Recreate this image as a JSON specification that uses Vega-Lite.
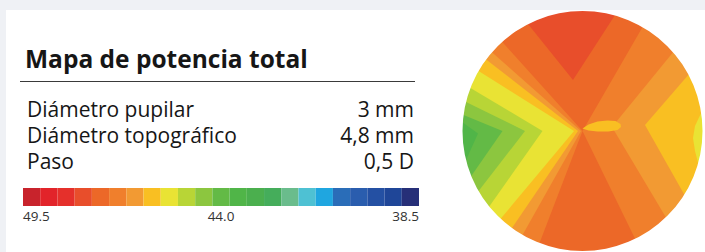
{
  "$schema": "https://vega.github.io/schema/vega-lite/v6.json",
  "background": "#eff1f5",
  "padding": {"left": 6, "top": 10, "right": 0, "bottom": 0},
  "config": {"view": {"stroke": null, "fill": "white"}, "font": "Open Sans"},
  "spacing": 0,
  "bounds": "flush",
  "datasets": {
    "tabla": [
      {"fila": 1, "etiqueta": "Diámetro pupilar", "valor": "3 mm"},
      {"fila": 2, "etiqueta": "Diámetro topográfico", "valor": "4,8 mm"},
      {"fila": 3, "etiqueta": "Paso", "valor": "0,5 D"}
    ],
    "escala": [
      {"v": 49.5}, {"v": 49}, {"v": 48.5}, {"v": 48}, {"v": 47.5}, {"v": 47}, {"v": 46.5}, {"v": 46},
      {"v": 45.5}, {"v": 45}, {"v": 44.5}, {"v": 44}, {"v": 43.5}, {"v": 43}, {"v": 42.5}, {"v": 42},
      {"v": 41.5}, {"v": 41}, {"v": 40.5}, {"v": 40}, {"v": 39.5}, {"v": 39}, {"v": 38.5}
    ],
    "regiones": [
      {"valor": 47, "forma": {"type": "Polygon", "coordinates": [[[-3.5,-3.5],[3.5,-3.5],[3.5,3.5],[-3.5,3.5],[-3.5,-3.5]]]}},
      {"valor": 47.5, "forma": {"type": "Polygon", "coordinates": [[[0,0],[-2.275,2.527],[1.7,2.944],[0,0]]]}},
      {"valor": 47.5, "forma": {"type": "Polygon", "coordinates": [[[0,0],[1.491,-3.056],[-1.218,-3.174],[0,0]]]}},
      {"valor": 48, "forma": {"type": "Polygon", "coordinates": [[[-0.19,1.02],[-1.09,2.138],[-1.544,3.029],[0.914,3.275],[0.645,2.312],[-0.19,1.02]]]}},
      {"valor": 46.5, "forma": {"type": "Polygon", "coordinates": [[[-0.03,0],[-1.811,1.575],[-2.566,2.231],[-3.4,0],[-1.7,-2.944],[-1.2,-2.078],[-0.03,0]]]}},
      {"valor": 46, "forma": {"type": "Polygon", "coordinates": [[[-0.09,0],[-1.927,1.431],[-2.73,2.027],[-3.4,0],[-1.999,-2.751],[-1.411,-1.942],[-0.09,0]]]}},
      {"valor": 45.5, "forma": {"type": "Polygon", "coordinates": [[[-0.17,0],[-2.078,1.2],[-2.944,1.7],[-3.4,0],[-2.319,-2.487],[-1.637,-1.755],[-0.17,0]]]}},
      {"valor": 45, "forma": {"type": "Polygon", "coordinates": [[[-0.8,0],[-2.241,0.86],[-3.174,1.219],[-3.4,0],[-2.642,-2.14],[-1.865,-1.51],[-0.8,0]]]}},
      {"valor": 44.5, "forma": {"type": "Polygon", "coordinates": [[[-1.15,0],[-2.329,0.581],[-3.299,0.822],[-3.4,0],[-2.944,-1.7],[-2.078,-1.2],[-1.15,0]]]}},
      {"valor": 44, "forma": {"type": "Polygon", "coordinates": [[[-1.6,0],[-2.379,0.318],[-3.37,0.45],[-3.4,0],[-3.152,-1.274],[-2.225,-0.899],[-1.6,0]]]}},
      {"valor": 43.5, "forma": {"type": "Polygon", "coordinates": [[[-2.09,-0.05],[-2.394,0.168],[-3.392,0.237],[-3.299,-0.822],[-2.329,-0.581],[-2.09,-0.05]]]}},
      {"valor": 46.5, "forma": {"type": "Polygon", "coordinates": [[[0.59,0.08],[1.811,1.575],[2.566,2.231],[3.4,0],[2.362,-2.446],[1.667,-1.726],[0.59,0.08]]]}},
      {"valor": 46, "forma": {"type": "Polygon", "coordinates": [[[1.25,0.12],[2.119,1.127],[3.002,1.596],[3.4,0],[2.883,-1.802],[2.035,-1.272],[1.25,0.12]]]}},
      {"valor": 45.5, "forma": {"type": "Polygon", "coordinates": [[[2.373,0.359],[2.25,0.1],[2.21,-0.14],[2.25,-0.4],[2.313,-0.641],[3.276,-0.908],[3.362,0.508],[2.373,0.359]]]}},
      {"valor": 46, "forma": {"type": "Polygon", "coordinates": [[[0,0.05],[0.12,0.13],[0.3,0.19],[0.5,0.21],[0.66,0.2],[0.76,0.14],[0.77,0.08],[0.7,0.02],[0.52,-0.01],[0.3,-0.01],[0.12,0.01],[0,0.05]]]}}
    ],
    "contorno": [{"r0": 2.4, "r1": 3.5, "t0": 0, "t1": 360}]
  },
  "hconcat": [
    {
      "width": 454,
      "height": 242,
      "layer": [
        {
          "data": {"values": [{"titulo": "Mapa de potencia total"}]},
          "mark": {"type": "text", "align": "left", "baseline": "alphabetic", "fontSize": 24.5, "fontWeight": "bold", "color": "#161616"},
          "encoding": {
            "x": {"datum": "titulo", "type": "nominal", "scale": {"type": "point", "domain": ["titulo"], "range": [19, 19], "padding": 0}, "axis": null},
            "y": {"datum": "titulo", "type": "nominal", "scale": {"type": "point", "domain": ["titulo"], "range": [58.3, 58.3], "padding": 0}, "axis": null},
            "text": {"field": "titulo"}
          }
        },
        {
          "data": {"values": [{"desde": "inicio", "hasta": "fin"}]},
          "mark": {"type": "rule", "color": "#3a3a3a", "strokeWidth": 1},
          "encoding": {
            "x": {"field": "desde", "type": "nominal", "scale": {"type": "point", "domain": ["inicio", "fin"], "range": [14, 409], "padding": 0}, "axis": null},
            "x2": {"field": "hasta"},
            "y": {"datum": "regla", "type": "nominal", "scale": {"type": "point", "domain": ["regla"], "range": [71.5, 71.5], "padding": 0}, "axis": null}
          }
        },
        {
          "data": {"name": "tabla"},
          "mark": {"type": "text", "align": "left", "baseline": "alphabetic", "fontSize": 21, "color": "#161616"},
          "encoding": {
            "x": {"datum": "etiqueta", "type": "nominal", "scale": {"type": "point", "domain": ["etiqueta", "valor"], "range": [21, 408], "padding": 0}, "axis": null},
            "y": {"field": "fila", "type": "ordinal", "scale": {"type": "point", "domain": [1, 2, 3], "range": [106.5, 158.6], "padding": 0}, "axis": null},
            "text": {"field": "etiqueta"}
          }
        },
        {
          "data": {"name": "tabla"},
          "mark": {"type": "text", "align": "right", "baseline": "alphabetic", "fontSize": 21, "color": "#161616"},
          "encoding": {
            "x": {"datum": "valor", "type": "nominal", "scale": {"type": "point", "domain": ["etiqueta", "valor"], "range": [21, 408], "padding": 0}, "axis": null},
            "y": {"field": "fila", "type": "ordinal", "scale": {"type": "point", "domain": [1, 2, 3], "range": [106.5, 158.6], "padding": 0}, "axis": null},
            "text": {"field": "valor"}
          }
        },
        {
          "data": {"name": "escala"},
          "mark": {"type": "rect"},
          "encoding": {
            "x": {
              "field": "v", "type": "ordinal",
              "scale": {"type": "band", "domain": [49.5,49,48.5,48,47.5,47,46.5,46,45.5,45,44.5,44,43.5,43,42.5,42,41.5,41,40.5,40,39.5,39,38.5], "range": [17, 413], "paddingInner": 0, "paddingOuter": 0},
              "axis": {"orient": "bottom", "offset": -46, "values": [49.5, 44, 38.5], "labelExpr": "format(datum.value, '.1f')", "labelFlush": 20, "labelFlushOffset": 8.6, "ticks": false, "domain": false, "grid": false, "labelPadding": 3.5, "labelFontSize": 13.5, "labelColor": "#333333", "labelAngle": 0, "title": null}
            },
            "y": {"datum": "barra", "type": "nominal", "scale": {"type": "band", "domain": ["barra"], "range": [178, 196], "paddingInner": 0, "paddingOuter": 0}, "axis": null},
            "color": {
              "field": "v", "type": "ordinal",
              "scale": {"domain": [49.5,49,48.5,48,47.5,47,46.5,46,45.5,45,44.5,44,43.5,43,42.5,42,41.5,41,40.5,40,39.5,39,38.5], "range": ["#c8232c","#e2242a","#e5302b","#e84e2b","#ec6828","#f07f2c","#f29a33","#f9bf22","#e9e334","#b8d536","#8cc63f","#63ba46","#50b548","#4baf4e","#45ad5b","#6abc8c","#4ec1d3","#1fa6e0","#2a6db8","#2a5dae","#2450a3","#1f4698","#262f78"]},
              "legend": null
            }
          }
        }
      ],
      "resolve": {"scale": {"x": "independent", "y": "independent"}}
    },
    {
      "width": 245,
      "height": 242,
      "layer": [
        {
          "data": {"name": "regiones"},
          "projection": {"type": "identity", "reflectY": true, "scale": 50, "translate": [122.5, 121]},
          "mark": {"type": "geoshape", "clip": true, "strokeWidth": 0},
          "encoding": {
            "shape": {"field": "forma", "type": "geojson"},
            "color": {
              "field": "valor", "type": "ordinal",
              "scale": {"domain": [49.5,49,48.5,48,47.5,47,46.5,46,45.5,45,44.5,44,43.5,43,42.5,42,41.5,41,40.5,40,39.5,39,38.5], "range": ["#c8232c","#e2242a","#e5302b","#e84e2b","#ec6828","#f07f2c","#f29a33","#f9bf22","#e9e334","#b8d536","#8cc63f","#63ba46","#50b548","#4baf4e","#45ad5b","#6abc8c","#4ec1d3","#1fa6e0","#2a6db8","#2a5dae","#2450a3","#1f4698","#262f78"]},
              "legend": null
            }
          }
        },
        {
          "data": {"name": "contorno"},
          "mark": {"type": "arc", "color": "white", "clip": true},
          "encoding": {
            "theta": {"field": "t0", "type": "quantitative", "scale": {"domain": [0, 360], "range": [0, 6.2832]}, "stack": null},
            "theta2": {"field": "t1"},
            "radius": {"field": "r0", "type": "quantitative", "scale": {"type": "linear", "domain": [0, 2.4], "range": [0, 120], "zero": true}},
            "radius2": {"field": "r1"}
          }
        }
      ]
    }
  ]
}
